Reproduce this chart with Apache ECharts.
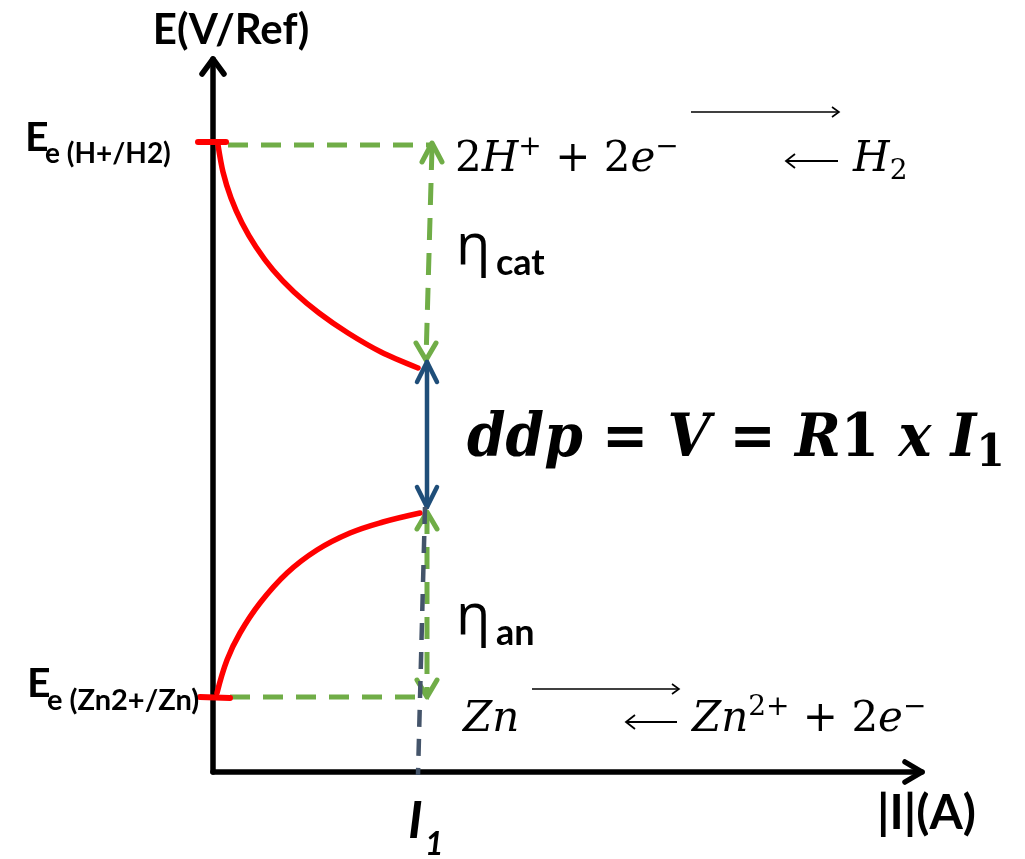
<!DOCTYPE html>
<html>
<head>
<meta charset="utf-8">
<script src="https://cdn.jsdelivr.net/npm/echarts@6/dist/echarts.min.js"></script>
<style>
  html, body { margin: 0; padding: 0; background: #fff; }
  #main { width: 1025px; height: 859px; }
</style>
</head>
<body>
<div id="main"></div>
<script>
// 坐标: I (A) 横轴, E (V/Ref) 纵轴, 原点在两轴交点
var E_H2 = 6.29;       // Ee (H+/H2)
var E_Zn = 0.75;       // Ee (Zn2+/Zn)
var I_1 = 2.14;        // courant I1
var yAxisTop = 7.13;
var xAxisEnd = 7.09;
var ddpTop = 4.10;
var ddpBottom = 2.65;

// courbe cathodique (H+/H2)
var cathodeCurve = [[0.05, 6.27], [0.10, 6.00], [0.18, 5.74], [0.29, 5.49], [0.43, 5.25],
  [0.60, 5.02], [0.81, 4.80], [1.06, 4.59], [1.35, 4.39], [1.68, 4.20], [2.05, 4.04]];
// courbe anodique (Zn)
var anodeCurve = [[0.04, 0.79], [0.14, 1.12], [0.27, 1.39], [0.47, 1.69], [0.74, 1.99],
  [1.04, 2.22], [1.37, 2.39], [1.70, 2.50], [2.07, 2.59]];

var GREEN = '#70ad47';
var RED = '#ff0000';
var BLUE = '#1f4e79';
var SLATE = '#44546a';

var myChart = echarts.init(document.getElementById('main'));

function path(pts, color, width, dash, z, smooth) {
  return {
    type: 'line',
    data: pts,
    symbol: 'none',
    silent: true,
    clip: false,
    smooth: smooth || false,
    z: z,
    lineStyle: {
      color: color,
      width: width,
      type: dash || 'solid',
      cap: dash ? 'butt' : 'round',
      join: 'round'
    }
  };
}

// pointe de flèche ouverte (chevron)
function head(tip, dir, back, side, color, width, z) {
  var bx = tip[0] - dir[0] * back, by = tip[1] - dir[1] * back;
  var px = -dir[1], py = dir[0];
  return path([[bx + px * side, by + py * side], tip, [bx - px * side, by - py * side]], color, width, null, z);
}

var series = [
  // axes
  path([[0, 0], [0, yAxisTop]], '#000', 5.5, null, 2),
  path([[0, 0], [xAxisEnd, 0]], '#000', 5.5, null, 2),
  head([0, yAxisTop], [0, 1], 0.15, 0.11, '#000', 5.5, 2),
  head([xAxisEnd, 0], [1, 0], 0.17, 0.10, '#000', 5.5, 2),

  // pointillés verts
  path([[0.15, E_H2 - 0.02], [I_1 + 0.05, E_H2 - 0.02]], GREEN, 5, [20, 13], 3),
  path([[I_1 + 0.05, E_H2 - 0.05], [I_1 - 0.01, ddpTop + 0.02]], GREEN, 5, [22, 13], 3),
  head([I_1 + 0.05, E_H2], [0, 1], 0.19, 0.10, GREEN, 5, 3),
  head([I_1 - 0.01, ddpTop + 0.02], [0, -1], 0.17, 0.10, GREEN, 5, 3),
  path([[0.17, E_Zn], [I_1 + 0.02, E_Zn]], GREEN, 5, [20, 13], 3),
  path([[I_1, ddpBottom - 0.05], [I_1, E_Zn]], GREEN, 5, [22, 13], 3),
  head([I_1, ddpBottom - 0.05], [0, 1], 0.17, 0.10, GREEN, 5, 3),
  head([I_1, E_Zn], [0, -1], 0.17, 0.10, GREEN, 5, 3),

  // courbes rouges
  path(cathodeCurve, RED, 5.5, null, 4, 0.3),
  path(anodeCurve, RED, 5.5, null, 4, 0.4),
  path([[-0.15, E_H2 + 0.01], [0.13, E_H2 + 0.01]], RED, 6, null, 4),
  path([[-0.13, E_Zn], [0.17, E_Zn - 0.01]], RED, 6, null, 4),

  // ddp
  path([[I_1, ddpTop], [I_1, ddpBottom]], BLUE, 4.5, null, 5),
  head([I_1, ddpTop], [0, 1], 0.20, 0.10, BLUE, 4.5, 5),
  head([I_1, ddpBottom], [0, -1], 0.20, 0.10, BLUE, 4.5, 5),

  // I1
  path([[I_1 - 0.02, ddpBottom], [I_1 - 0.09, -0.03]], SLATE, 4.5, [17, 12], 6)
];

var bold = 'Lato';
var serif = 'DejaVu Serif';

function txt(text, x, y, size, opts) {
  opts = opts || {};
  return {
    type: 'text',
    x: x,
    y: y,
    scaleX: opts.scaleX || 1,
    silent: true,
    z: 10,
    style: {
      text: text,
      fontSize: size,
      fontFamily: opts.family || bold,
      fontWeight: opts.weight || 'bold',
      fontStyle: opts.style || 'normal',
      fill: '#000',
      align: opts.align || 'left',
      verticalAlign: 'middle',
      rich: opts.rich
    }
  };
}

// équations : italique pour les variables, droit pour les chiffres
var mathRich = {
  i: { fontFamily: serif, fontStyle: 'italic', fontSize: 42, lineHeight: 52, verticalAlign: 'middle' },
  n: { fontFamily: serif, fontSize: 42, lineHeight: 52, verticalAlign: 'middle' },
  s: { fontFamily: serif, fontSize: 28, lineHeight: 28, verticalAlign: 'top' },
  b: { fontFamily: serif, fontSize: 28, lineHeight: 28, verticalAlign: 'bottom' }
};
var ddpRich = {
  i: { fontFamily: serif, fontStyle: 'italic', fontWeight: 'bold', fontSize: 60, lineHeight: 74, verticalAlign: 'middle' },
  n: { fontFamily: serif, fontWeight: 'bold', fontSize: 60, lineHeight: 74, verticalAlign: 'middle' },
  b: { fontFamily: serif, fontWeight: 'bold', fontSize: 44, lineHeight: 44, verticalAlign: 'bottom' }
};

function arrowRight(x1, x2, y) {
  return [
    { type: 'line', silent: true, shape: { x1: x1, y1: y, x2: x2, y2: y }, style: { stroke: '#000', lineWidth: 1.6 } },
    { type: 'polyline', silent: true, shape: { points: [[x2 - 7, y - 5], [x2, y], [x2 - 7, y + 5]] }, style: { stroke: '#000', lineWidth: 1.6, fill: null } }
  ];
}
function arrowLeft(x1, x2, y) {
  return [
    { type: 'line', silent: true, shape: { x1: x1, y1: y, x2: x2, y2: y }, style: { stroke: '#000', lineWidth: 1.8 } },
    { type: 'polyline', silent: true, shape: { points: [[x1 + 9, y - 7], [x1, y], [x1 + 9, y + 7]] }, style: { stroke: '#000', lineWidth: 1.8, fill: null } }
  ];
}

var graphics = [
  txt('E(V/Ref)', 231, 30, 42, { align: 'center' }),
  txt('E', 25, 138, 41),
  txt('e (H+/H2)', 45, 154, 28),
  txt('E', 27, 684, 41),
  txt('e (Zn2+/Zn)', 47, 701, 29),
  txt('η', 456, 248, 56, { family: 'Open Sans', weight: 'normal' }),
  txt('cat', 496, 263, 36),
  txt('η', 456, 618, 56, { family: 'Open Sans', weight: 'normal' }),
  txt('an', 496, 633, 36),
  txt('{n|2}{i|H}{s|+}{n| + 2}{i|e}{s|−}', 455, 160, 42, { weight: 'normal', rich: mathRich }),
  txt('{i|H}{b|2}', 853, 160, 42, { weight: 'normal', rich: mathRich }),
  txt('{i|Zn}', 463, 720, 42, { weight: 'normal', rich: mathRich }),
  txt('{i|Zn}{s|2+}{n| + 2}{i|e}{s|−}', 692, 720, 42, { weight: 'normal', rich: mathRich }),
  txt('{i|ddp = V = R}{n|1}{i| x I}{b|1}', 467, 440, 60, { rich: ddpRich, scaleX: 0.92 }),
  txt('I', 408, 821, 52, { style: 'italic' }),
  txt('1', 425, 845, 32, { style: 'italic' }),
  txt('|I|(A)', 877, 814, 48)
].concat(
  arrowRight(691, 839, 112), arrowRight(532, 679, 689),
  arrowLeft(786, 838, 161), arrowLeft(626, 677, 722)
);

var option = {
  animation: false,
  backgroundColor: '#fff',
  grid: { left: 0, right: 0, top: 0, bottom: 0 },
  xAxis: { type: 'value', min: -2.13, max: 8.12, show: false },
  yAxis: { type: 'value', min: -0.87, max: 7.72, show: false },
  series: series,
  graphic: graphics
};

myChart.setOption(option);
</script>
</body>
</html>
